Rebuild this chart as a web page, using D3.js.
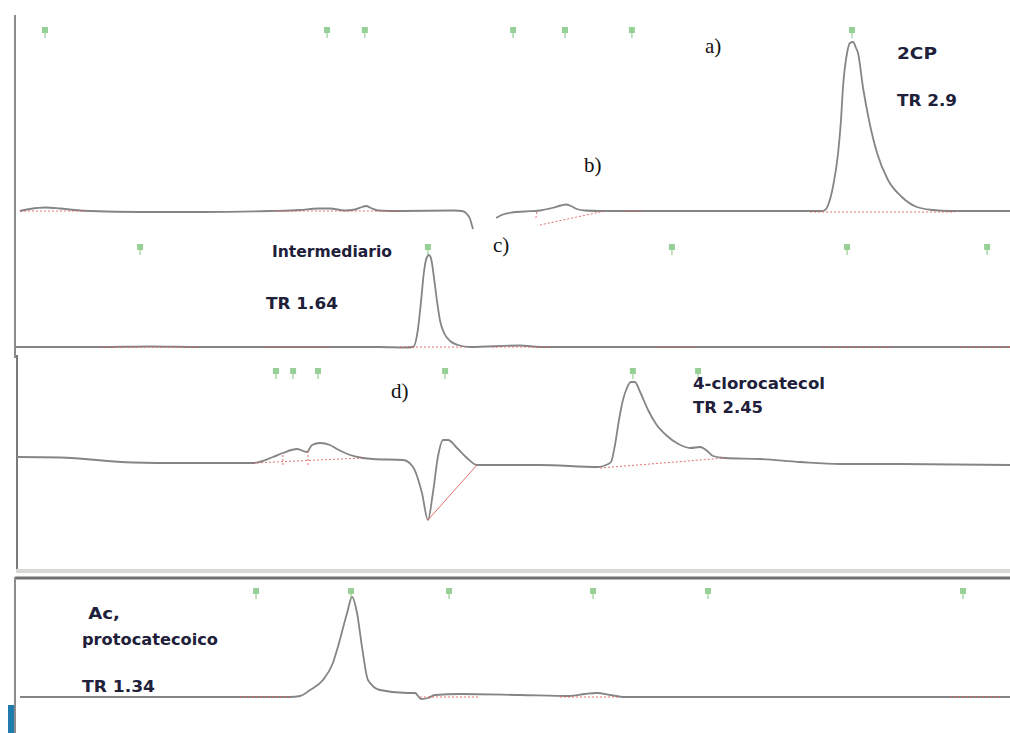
<!DOCTYPE html>
<html>
<head>
<meta charset="utf-8">
<script src="https://cdn.jsdelivr.net/npm/d3@7"></script>
<style>
  body { margin: 0; background: #fff; }
  svg { display: block; }
</style>
</head>
<body>
<svg id="chart" width="1010" height="733"></svg>
<script>
// ---- data (time in min, signal in arbitrary absorbance units) ----

// panel a, first injection (left half)
var traceA = [[0.017,0],[0.052,2],[0.104,3.5],[0.156,2.5],[0.208,1],[0.260,0],[0.433,-1],[0.641,-1],
  [0.884,0],[0.988,1],[1.051,2.5],[1.092,2.5],[1.144,0.5],[1.179,1.5],[1.203,4],[1.217,5],[1.234,3],
  [1.259,0.5],[1.335,0],[1.526,0.5],[1.550,0],[1.567,-3],[1.578,-8],[1.585,-15],[1.588,-18]];
// panel a, second part (b) with the 2CP peak
var traceB = [[1.668,-7],[1.692,-3.5],[1.723,-1.5],[1.768,-0.5],[1.820,0.5],[1.862,3],[1.893,5.5],
  [1.910,6.5],[1.928,5],[1.948,2],[1.976,0.5],[2.028,0],[2.375,0],[2.757,0],[2.798,0],[2.809,1],
  [2.822,8],[2.836,24],[2.854,58],[2.864,91],[2.871,124],[2.885,158],[2.895,168],[2.906,169],
  [2.916,163],[2.923,158],[2.940,124],[2.961,91],[2.989,58],[3.027,31],[3.075,14],[3.127,4],
  [3.183,1],[3.242,0],[3.450,0]];
var traceC = [[0,0],[0.342,0],[0.543,0.5],[0.744,0],[1.146,0],[1.467,0],[1.568,-0.5],[1.600,0],
  [1.620,18],[1.632,45],[1.644,75],[1.656,90],[1.664,92],[1.673,88],[1.684,70],[1.697,45],[1.709,26],
  [1.725,14],[1.749,6],[1.781,2],[1.829,0],[2.030,1.5],[2.111,0],[2.754,0],[4.0,0]];
var traceD = [[0.008,3],[0.181,2.5],[0.474,-2.5],[0.663,-3],[0.957,-3],[1.037,3],[1.077,7],
  [1.134,11],[1.174,8],[1.194,15],[1.226,17],[1.266,15],[1.294,11],[1.347,5],[1.399,2],[1.439,1],
  [1.560,0],[1.600,-7],[1.636,-33],[1.660,-60],[1.680,-33],[1.700,3],[1.721,20],[1.741,20],
  [1.777,12],[1.817,2],[1.857,-5],[1.922,-5],[2.111,-5],
  [2.344,-7],[2.376,-5],[2.396,-2],[2.412,15],[2.428,40],[2.444,60],[2.460,72],[2.476,78],[2.492,78],
  [2.513,68],[2.545,50],[2.577,36],[2.617,25],[2.667,16],[2.715,12],[2.754,13],[2.778,10],[2.806,4],
  [2.854,2],[2.995,1],[3.156,-2],[3.317,-4],[3.558,-4],[4.0,-5]];
var traceE = [[0.020,0],[0.744,0],[1.106,0],[1.146,1],[1.186,7],[1.238,17],[1.278,34],[1.298,50],
  [1.335,84],[1.355,100],[1.375,84],[1.395,50],[1.419,17],[1.467,7],[1.576,4],[1.608,4],
  [1.633,-2],[1.660,-1],[1.688,2],[1.789,3],[2.030,2],
  [2.231,1],[2.291,3],[2.340,4],[2.392,2],[2.452,0],[4.0,0]];

// integration baselines [t1, s1, t2, s2]
var baseA = [[0.017,0,0.243,0],[0.901,0,1.335,0],[1.806,-7,1.810,0],[1.820,-14,2.045,0],
  [2.115,0,2.174,0],[2.757,-1,3.259,-1]];
var baseC = [[0.342,0,0.744,0],[1.005,0,1.266,0],[1.548,0,1.809,0],[1.918,0,2.151,0],
  [2.581,0,2.734,0],[3.244,0,3.525,0],[3.799,0,4.0,0]];
var baseD = [[0.957,-3,1.399,2],[1.077,-5,1.077,7],[1.178,-5,1.178,10],[2.352,-8,2.854,2]];
var skimD = [[1.660,-60,1.857,-5]];
var baseE = [[0.905,0,1.106,0],[1.628,0,1.869,0],[2.191,0,2.432,0],[3.759,0,3.960,0]];

// peak markers (time)
var markA = [0.104,1.082,1.213,1.727,1.907,2.139,2.902];
var markC = [0.503,1.660,2.641,3.345,3.908];
var markD = [1.049,1.118,1.218,1.729,2.484,2.746];
var markE = [0.969,1.351,1.745,2.324,2.786,3.811];

var panelLetters = ["a)", "b)", "c)", "d)"];
var compoundNames = [["2CP"], ["Intermediario"], ["4-clorocatecol"], [" Ac,", "protocatecoico"]];
var retentionTimes = ["2.9", "1.64", "2.45", "1.34"];

// ---- drawing ----
var svg = d3.select("#chart");

var xA = d3.scaleLinear().domain([0, 3.45]).range([15, 1010]);
var xR = d3.scaleLinear().domain([0, 4]).range([15, 1010]);
var yA = d3.scaleLinear().domain([0, 170]).range([211, 41]);
var yC = d3.scaleLinear().domain([0, 100]).range([347, 247]);
var yD = d3.scaleLinear().domain([0, 100]).range([460, 360]);
var yE = d3.scaleLinear().domain([0, 100]).range([697, 597]);

// frames
svg.append("line").attr("x1", 15).attr("x2", 15).attr("y1", 15).attr("y2", 358)
  .attr("stroke", "#8c8c8c").attr("stroke-width", 2);
svg.append("line").attr("x1", 17).attr("x2", 17).attr("y1", 355).attr("y2", 572)
  .attr("stroke", "#7a7a7a").attr("stroke-width", 2);
svg.append("line").attr("x1", 16).attr("x2", 1010).attr("y1", 571).attr("y2", 571)
  .attr("stroke", "#d8d8d4").attr("stroke-width", 4);
svg.append("line").attr("x1", 15).attr("x2", 1010).attr("y1", 578).attr("y2", 578)
  .attr("stroke", "#707070").attr("stroke-width", 3);
svg.append("line").attr("x1", 15).attr("x2", 15).attr("y1", 577).attr("y2", 733)
  .attr("stroke", "#8c8c8c").attr("stroke-width", 2);
svg.append("rect").attr("x", 8).attr("y", 705).attr("width", 6).attr("height", 28)
  .attr("fill", "#1f7cae");

function drawBase(segs, x, y, dash, width) {
  svg.append("g").selectAll("line").data(segs).enter().append("line")
    .attr("x1", function (d) { return x(d[0]); })
    .attr("y1", function (d) { return y(d[1]); })
    .attr("x2", function (d) { return x(d[2]); })
    .attr("y2", function (d) { return y(d[3]); })
    .attr("stroke", "#e05a5a").attr("stroke-width", width || 1)
    .attr("stroke-dasharray", dash).attr("opacity", 0.85);
}

function drawTrace(pts, x, y) {
  var line = d3.line()
    .x(function (d) { return x(d[0]); })
    .y(function (d) { return y(d[1]); })
    .curve(d3.curveMonotoneX);
  svg.append("path").datum(pts).attr("d", line)
    .attr("fill", "none").attr("stroke", "#858585").attr("stroke-width", 1.8);
}

function drawMarks(times, x, top) {
  var g = svg.append("g").attr("fill", "#7cc47c").attr("stroke", "#7cc47c");
  g.selectAll("rect").data(times).enter().append("rect")
    .attr("x", function (d) { return x(d) - 3; }).attr("y", top)
    .attr("width", 6).attr("height", 6).attr("stroke", "none").attr("opacity", 0.8);
  g.selectAll("line").data(times).enter().append("line")
    .attr("x1", function (d) { return x(d); }).attr("x2", function (d) { return x(d); })
    .attr("y1", top + 6).attr("y2", top + 11).attr("stroke-width", 1.2).attr("opacity", 0.8);
}

drawTrace(traceA, xA, yA);
drawTrace(traceB, xA, yA);
drawTrace(traceC, xR, yC);
drawTrace(traceD, xR, yD);
drawTrace(traceE, xR, yE);

drawBase(baseA, xA, yA, "2,2");
drawBase(baseC, xR, yC, "2,2");
drawBase(baseD, xR, yD, "2,2");
drawBase(skimD, xR, yD, null, 1);
drawBase(baseE, xR, yE, "2,2");

drawMarks(markA, xA, 27);
drawMarks(markC, xR, 244);
drawMarks(markD, xR, 368);
drawMarks(markE, xR, 588);

// panel letters (serif)
var letterPos = [[705, 53], [584, 172], [493, 252], [391, 398]];
svg.append("g").selectAll("text").data(panelLetters).enter().append("text")
  .attr("x", function (d, i) { return letterPos[i][0]; })
  .attr("y", function (d, i) { return letterPos[i][1]; })
  .attr("font-family", "Liberation Serif, Times New Roman, serif")
  .attr("font-size", 21).attr("fill", "#111")
  .text(function (d) { return d; });

// compound labels
var nameLayout = [
  { x: 897, y: [59], len: [40], tr: [897, 106, 60] },
  { x: 272, y: [257], len: [120], tr: [266, 309, 72] },
  { x: 693, y: [389], len: [132], tr: [693, 413, 70] },
  { x: 82, y: [619, 645], len: [38, 136], tr: [82, 692, 73] }
];
var lab = svg.append("g").attr("font-family", "DejaVu Sans, Verdana, sans-serif")
  .attr("font-size", 16).attr("font-weight", "bold").attr("fill", "#20203a");
compoundNames.forEach(function (lines, i) {
  var L = nameLayout[i];
  lines.forEach(function (s, j) {
    lab.append("text").attr("x", L.x).attr("y", L.y[j])
      .attr("textLength", L.len[j]).attr("lengthAdjust", "spacingAndGlyphs")
      .attr("xml:space", "preserve").text(s);
  });
  lab.append("text").attr("x", L.tr[0]).attr("y", L.tr[1])
    .attr("textLength", L.tr[2]).attr("lengthAdjust", "spacingAndGlyphs")
    .text("TR " + retentionTimes[i]);
});
</script>
</body>
</html>
